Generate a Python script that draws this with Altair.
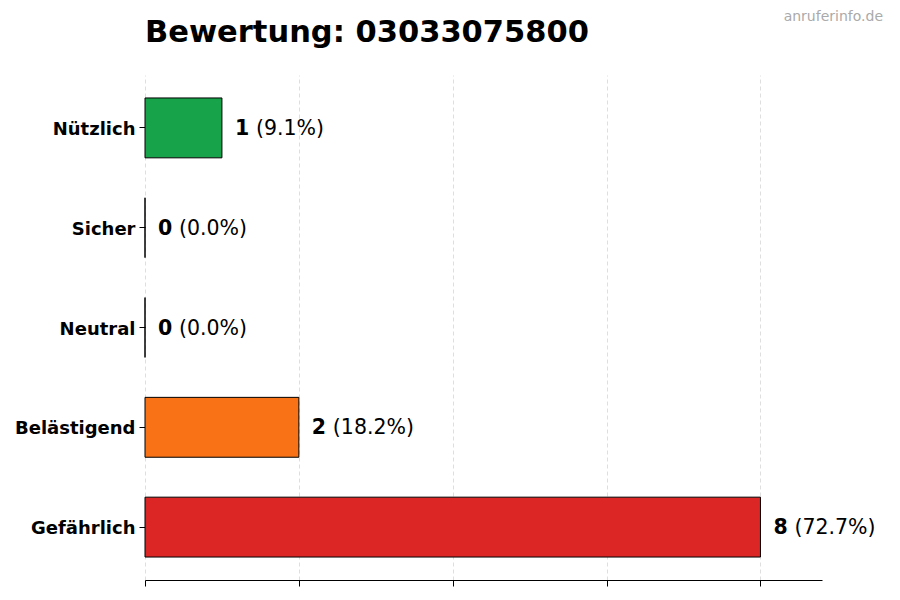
import altair as alt
import pandas as pd

categories = ["Nützlich", "Sicher", "Neutral", "Belästigend", "Gefährlich"]
counts = [1, 0, 0, 2, 8]
percent_labels = ["(9.1%)", "(0.0%)", "(0.0%)", "(18.2%)", "(72.7%)"]
bar_colors = ["#16a34a", "#3b82f6", "#9ca3af", "#f97316", "#dc2626"]
x_ticks = [0, 2, 4, 6, 8]
x_max = 8.8

df = pd.DataFrame({
    "cat": categories,
    "n": counts,
    "pct": percent_labels,
    "color": bar_colors,
    "nlabel": [str(c) for c in counts],
})

FONT = "DejaVu Sans"

y_enc = alt.Y(
    "cat:N", sort=categories, title=None,
    scale=alt.Scale(paddingInner=0.4, paddingOuter=0.23),
    axis=alt.Axis(domain=False, labelFont=FONT, labelFontSize=18, labelFontWeight="bold",
                  labelColor="black", tickColor="black", tickSize=6, tickWidth=1,
                  labelPadding=4, labelOffset=2, grid=False),
)
x_enc = alt.X(
    "n:Q", title=None,
    scale=alt.Scale(domain=[0, x_max], nice=False, zero=True),
    axis=alt.Axis(values=x_ticks, labels=False, domainColor="black", domainWidth=1,
                  tickColor="black", tickSize=6, tickWidth=1, grid=True,
                  gridColor="#d6d6d6", gridDash=[4, 3], gridWidth=0.8),
)

base = alt.Chart(df)
bars = base.mark_bar(stroke="black", strokeWidth=1).encode(
    x=x_enc, y=y_enc, color=alt.Color("color:N", scale=None)
)
num = base.mark_text(align="left", baseline="middle", dx=13, dy=1, font=FONT, fontSize=20.5,
                     fontWeight="bold", color="black").encode(
    x="n:Q", y=alt.Y("cat:N", sort=categories), text="nlabel:N"
)
pct = base.mark_text(align="left", baseline="middle", dx=34, dy=1, font=FONT, fontSize=20.5,
                     color="black").encode(
    x="n:Q", y=alt.Y("cat:N", sort=categories), text="pct:N"
)
wm = alt.Chart(pd.DataFrame({"t": ["anruferinfo.de"]})).mark_text(
    align="right", baseline="middle", font=FONT, fontSize=14, color="#aaaaaa"
).encode(x=alt.value(738), y=alt.value(-58), text="t:N")

chart = alt.layer(bars, num, pct, wm).properties(
    width=677, height=505,
    title=alt.TitleParams("Bewertung: 03033075800", anchor="start", frame="group",
                          font=FONT, fontSize=30.5, fontWeight="bold", color="black",
                          offset=-38),
    autosize=alt.AutoSizeParams(type="none"),
    padding={"left": 137, "top": 67, "right": 62, "bottom": 15},
).configure(background="white").configure_view(strokeWidth=0, stroke=None)

chart.save("out.html", embed_options={"renderer": "svg", "actions": False})
